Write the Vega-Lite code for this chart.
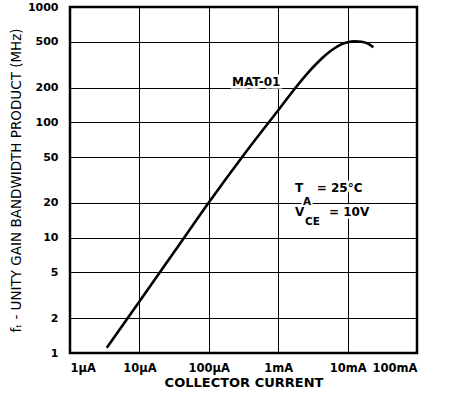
{
  "$schema": "https://vega.github.io/schema/vega-lite/v6.json",
  "width": 347,
  "height": 346,
  "autosize": "none",
  "padding": {"left": 70, "top": 7, "right": 33, "bottom": 52},
  "background": "white",
  "config": {
    "view": {"stroke": "black", "strokeWidth": 2.5},
    "axis": {
      "grid": true, "gridColor": "black", "gridWidth": 1, "gridOpacity": 1,
      "ticks": false, "domain": false,
      "labelFont": "DejaVu Sans", "labelFontWeight": "bold", "labelColor": "black",
      "titleFont": "DejaVu Sans", "titleColor": "black"
    }
  },
  "datasets": {
    "curve": [
      {"ic": 3.39e-6, "ft": 1.109},
      {"ic": 1e-5, "ft": 2.80},
      {"ic": 3.162e-5, "ft": 7.50},
      {"ic": 1e-4, "ft": 20.18},
      {"ic": 3.162e-4, "ft": 51.9},
      {"ic": 1e-3, "ft": 127.4},
      {"ic": 1.778e-3, "ft": 199.5},
      {"ic": 2.512e-3, "ft": 257.0},
      {"ic": 3.548e-3, "ft": 322.1},
      {"ic": 5.012e-3, "ft": 390.8},
      {"ic": 6.310e-3, "ft": 434.5},
      {"ic": 7.943e-3, "ft": 472.1},
      {"ic": 1e-2, "ft": 495.5},
      {"ic": 1.259e-2, "ft": 504.7},
      {"ic": 1.585e-2, "ft": 498.9},
      {"ic": 1.995e-2, "ft": 478.6},
      {"ic": 2.344e-2, "ft": 446.7}
    ],
    "labels": [
      {"ic": 2.16e-4, "ft": 207, "t": "MAT-01"},
      {"ic": 1.746e-3, "ft": 24.9, "t": "T"},
      {"ic": 3.59e-3, "ft": 24.9, "t": "= 25°C"},
      {"ic": 1.746e-3, "ft": 15.4, "t": "V"},
      {"ic": 5.4e-3, "ft": 15.4, "t": "= 10V"}
    ],
    "subs": [
      {"ic": 2.28e-3, "ft": 19.2, "t": "A"},
      {"ic": 2.43e-3, "ft": 12.9, "t": "CE"}
    ]
  },
  "encoding": {
    "x": {
      "field": "ic", "type": "quantitative",
      "scale": {"type": "log", "domain": [1e-6, 0.1]},
      "axis": {
        "values": [1e-6, 1e-5, 1e-4, 1e-3, 1e-2, 1e-1],
        "labelExpr": "datum.value < 2e-6 ? '1μA' : datum.value < 2e-5 ? '10μA' : datum.value < 2e-4 ? '100μA' : datum.value < 2e-3 ? '1mA' : datum.value < 2e-2 ? '10mA' : '100mA'",
        "labelFontSize": 11.5, "labelPadding": 9,
        "title": "COLLECTOR CURRENT", "titleFontSize": 13, "titleFontWeight": "bold", "titlePadding": 3
      }
    },
    "y": {
      "field": "ft", "type": "quantitative",
      "scale": {"type": "log", "domain": [1, 1000]},
      "axis": {
        "values": [1, 2, 5, 10, 20, 50, 100, 200, 500, 1000],
        "format": "d",
        "labelFontSize": 11, "labelPadding": 12,
        "title": "fₜ - UNITY GAIN BANDWIDTH PRODUCT (MHz)", "titleFontSize": 13.5, "titleFontWeight": "normal", "titlePadding": 4
      }
    }
  },
  "layer": [
    {
      "data": {"name": "curve"},
      "mark": {"type": "line", "color": "black", "strokeWidth": 2.6, "interpolate": "monotone", "clip": true}
    },
    {
      "data": {"name": "labels"},
      "mark": {"type": "text", "align": "left", "baseline": "alphabetic", "font": "DejaVu Sans", "fontWeight": "bold", "fontSize": 12, "stroke": "white", "strokeWidth": 5, "fill": "white"},
      "encoding": {"text": {"field": "t"}}
    },
    {
      "data": {"name": "subs"},
      "mark": {"type": "text", "align": "left", "baseline": "alphabetic", "font": "DejaVu Sans", "fontWeight": "bold", "fontSize": 10.5, "stroke": "white", "strokeWidth": 4, "fill": "white"},
      "encoding": {"text": {"field": "t"}}
    },
    {
      "data": {"name": "labels"},
      "mark": {"type": "text", "align": "left", "baseline": "alphabetic", "font": "DejaVu Sans", "fontWeight": "bold", "fontSize": 12, "color": "black"},
      "encoding": {"text": {"field": "t"}}
    },
    {
      "data": {"name": "subs"},
      "mark": {"type": "text", "align": "left", "baseline": "alphabetic", "font": "DejaVu Sans", "fontWeight": "bold", "fontSize": 10.5, "color": "black"},
      "encoding": {"text": {"field": "t"}}
    }
  ]
}
